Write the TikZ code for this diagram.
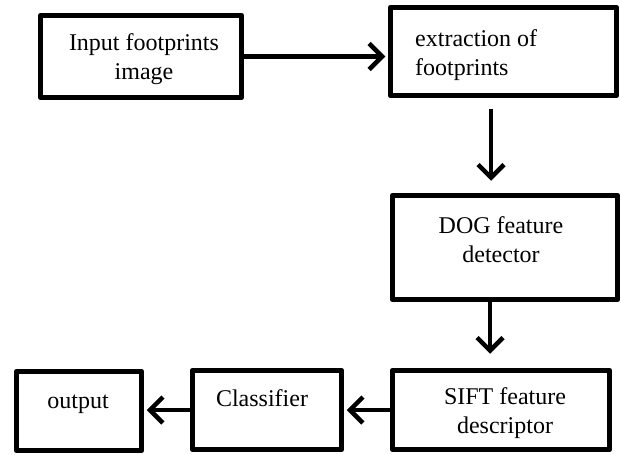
\documentclass[tikz,border=0pt]{standalone}
\usepackage{fontspec}
\setmainfont{Liberation Serif}
\usetikzlibrary{arrows.meta,calc}
\begin{document}
\begin{tikzpicture}[x=1pt,y=-1pt,
  box/.style={draw, line width=5.5pt, inner sep=0pt, line join=round},
  lbl/.style={font=\fontsize{24}{29}\selectfont, align=center, inner sep=0pt},
  arr/.style={line width=4.5pt, -{Straight Barb[length=13pt,width=26pt]}}]
\useasboundingbox (0,0) rectangle (621,455);
% boxes
\node[box, minimum width=201pt, minimum height=82pt] (b1) at (141,56.5) {};
\node[box, minimum width=226pt, minimum height=88pt] (b2) at (503.5,51.5) {};
\node[box, minimum width=225pt, minimum height=104pt] (dog) at (505,247.5) {};
\node[box, minimum width=217pt, minimum height=79pt] (sift) at (501,410) {};
\node[box, minimum width=149pt, minimum height=79pt] (cls) at (267,410) {};
\node[box, minimum width=125pt, minimum height=79pt] (out) at (79,411) {};
% texts
\node[lbl] (t1) at (144,59) {Input footprints\\image};
\node[lbl, align=left, anchor=west] (t2) at (415,55) {extraction of\\footprints};
\node[lbl] (t3) at (501,239.4) {DOG feature\\detector};
\node[lbl] (t4) at (505,413) {SIFT feature\\descriptor};
\node[lbl, anchor=base] (t5) at (262,406) {Classifier};
\node[lbl, anchor=base] (t6) at (78,408) {output};
% connectors
\draw[arr, shorten >=2.5pt] (b1.east) -- (b1.east -| b2.west);
\coordinate (p1) at ($(b2.south)+(-12.5,11)$);
\coordinate (p2) at ($(dog.north)+(0,-12)$);
\draw[arr] (p1) -- (p1 |- p2);
\coordinate (p3) at ($(dog.south)+(-15,0)$);
\coordinate (p4) at ($(sift.north)+(0,-14)$);
\draw[arr] (p3) -- (p3 |- p4);
\draw[arr, shorten >=2.5pt] (sift.west) -- (sift.west -| cls.east);
\draw[arr, shorten >=2.5pt] (cls.west) -- (cls.west -| out.east);
\end{tikzpicture}
\end{document}
